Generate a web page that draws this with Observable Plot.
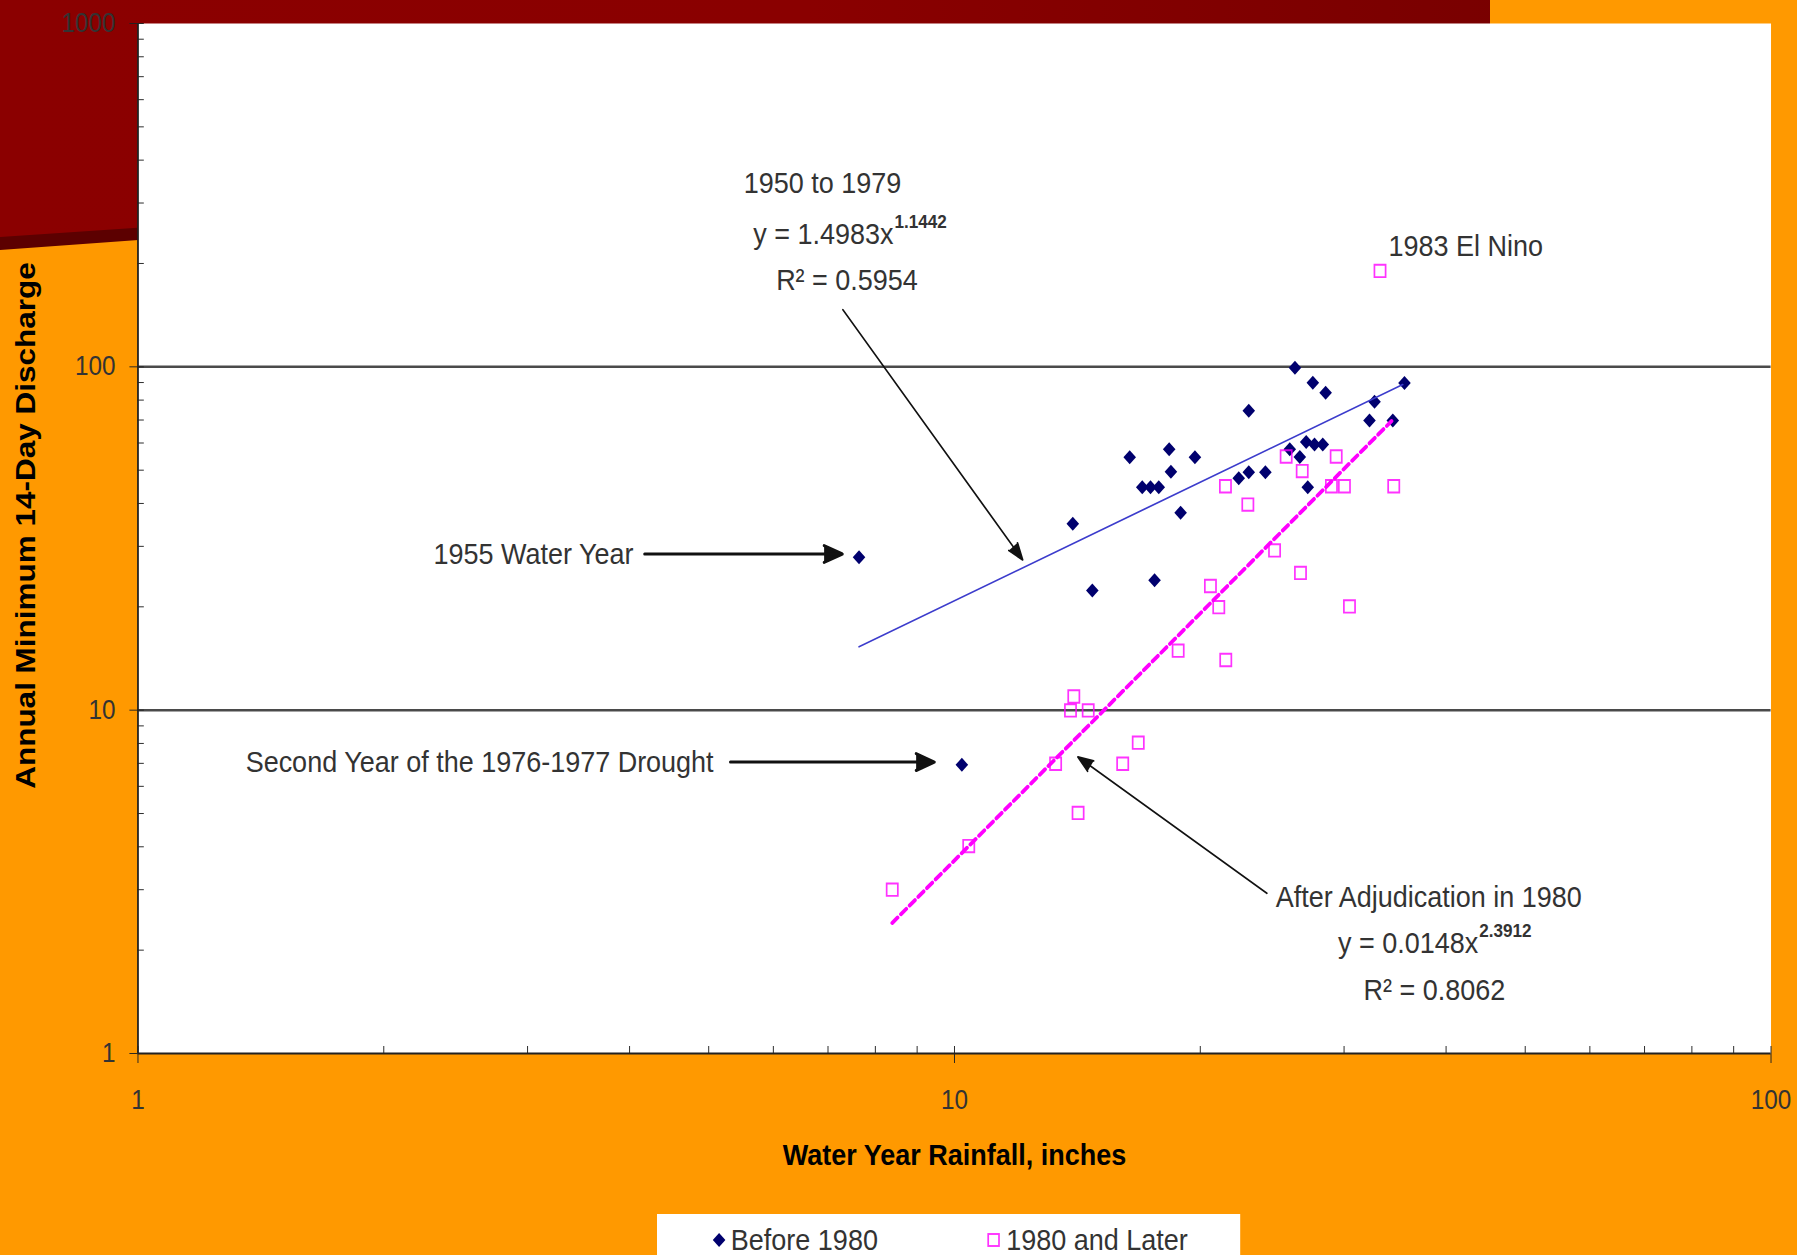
<!DOCTYPE html>
<html>
<head>
<meta charset="utf-8">
<script src="https://cdn.jsdelivr.net/npm/d3@7"></script>
<script src="https://cdn.jsdelivr.net/npm/@observablehq/plot@0.6"></script>
<style>
  html, body { margin: 0; padding: 0; width: 1797px; height: 1255px; overflow: hidden; background: #FF9900; }
  #bgband { position: absolute; left: 0; top: 0; width: 1797px; height: 300px; background: #5c0000;
            clip-path: polygon(0 0, 1490px 0, 1490px 142px, 0 250px); }
  #bgred { position: absolute; left: 0; top: 0; width: 1797px; height: 300px;
           background: linear-gradient(to right, #8b0000 0%, #8a0000 45%, #720000 100%);
           clip-path: polygon(0 0, 1490px 0, 1490px 137px, 0 237px); }
  #wrap { position: absolute; left: 0; top: 0; width: 1997px; height: 1255px;
          transform: scaleX(0.9); transform-origin: 0 0;
          font-family: "Liberation Sans", Arial, sans-serif; }
  #legend { position: absolute; left: 730px; top: 1214px; width: 648px; height: 60px; background: #fff; }
  .item { position: absolute; top: 9px; height: 34px; line-height: 34px; font-size: 30px; color: #333; white-space: nowrap; }
  .item svg { vertical-align: middle; margin-right: 4px; position: relative; top: -2px; }
</style>
</head>
<body>
<div id="bgband"></div>
<div id="bgred"></div>
<div id="wrap">
  <div id="chart"></div>
  <div id="legend"></div>
</div>
<script>
// ---- Data ----
// Before 1980 (1950-1979): water-year rainfall (in) and annual minimum 14-day discharge
const rainBefore = [7.64, 10.21, 13.96, 14.75, 16.39, 16.98, 17.38, 17.79, 17.58, 18.32,
                    18.41, 18.92, 19.70, 22.29, 22.93, 22.93, 24.03, 25.74, 26.12, 26.48,
                    26.96, 27.60, 28.25, 27.08, 27.47, 28.48, 32.23, 32.69, 34.42, 35.57];
const flowBefore = [27.9, 6.93, 34.9, 22.3, 54.5, 44.6, 44.6, 44.6, 23.9, 57.5,
                    49.5, 37.6, 54.5, 47.4, 49.3, 74.5, 49.3, 57.5, 99.4, 54.6,
                    60.4, 59.4, 59.4, 44.6, 89.9, 84.1, 69.8, 79.1, 69.8, 89.7];
// 1980 and later
const rainAfter = [33.2, 25.48, 29.34, 26.66, 21.47, 28.95, 30.03, 34.51, 22.87, 24.66,
                   26.53, 20.58, 21.07, 30.46, 18.79, 21.49, 14.0, 13.87, 14.58, 16.79,
                   16.07, 13.30, 14.17, 10.41, 8.39];
const flowAfter = [190.3, 54.8, 54.8, 49.7, 44.9, 44.9, 44.9, 44.9, 39.7, 29.2,
                   25.1, 23.0, 19.95, 20.05, 14.9, 14.0, 10.96, 9.98, 9.98, 8.04,
                   6.98, 6.98, 5.02, 4.02, 3.0];
// Power-law trendline end points
const trendBeforeRain = [7.64, 35.4];
const trendBeforeFlow = [15.3, 88.8];
const trendAfterRain = [8.39, 34.3];
const trendAfterFlow = [2.4, 69.5];

// Axis ticks
const xMajorTicks = [1, 10, 100];
const xMinorTicks = [2, 3, 4, 5, 6, 7, 8, 9, 20, 30, 40, 50, 60, 70, 80, 90];
const yMajorTicks = [1, 10, 100, 1000];
const yMinorTicks = [2, 3, 4, 5, 6, 7, 8, 9, 20, 30, 40, 50, 60, 70, 80, 90, 200, 300, 400, 500, 600, 700, 800, 900];
const gridY = [10, 100];

// Texts
const xTitle = "Water Year Rainfall, inches";
const yTitle = "Annual Minimum 14-Day Discharge";
const legendLabels = ["Before 1980", "1980 and Later"];

// Annotations (positions in data units)
const notesMiddle = [
  {x: 6.89, y: 342, text: "1950 to 1979"},
  {x: 7.385, y: 178.6, text: "R² = 0.5954"},
  {x: 38.1, y: 2.85, text: "After Adjudication in 1980"},
  {x: 38.7, y: 1.526, text: "R² = 0.8062"}
];
const notesEnd = [
  {x: 8.42, y: 243, text: "y = 1.4983x"},
  {x: 43.8, y: 2.09, text: "y = 0.0148x"},
  {x: 4.045, y: 28.5, text: "1955 Water Year"},
  {x: 5.07, y: 7.06, text: "Second Year of the 1976-1977 Drought"}
];
const notesStart = [
  {x: 34.0, y: 224, text: "1983 El Nino"}
];
const superscripts = [
  {x: 8.42, y: 243, text: "1.1442"},
  {x: 43.8, y: 2.09, text: "2.3912"}
];
const arrowsThick = [
  {x1: 4.173, y1: 28.5, x2: 7.29, y2: 28.5},
  {x1: 5.315, y1: 7.06, x2: 9.45, y2: 7.06}
];
const arrowsThin = [
  {x1: 7.30, y1: 146.6, x2: 12.12, y2: 27.4},
  {x1: 24.13, y1: 2.93, x2: 14.16, y2: 7.31}
];

// ---- Tables built from the arrays ----
const before = rainBefore.map((r, i) => ({rain: r, flow: flowBefore[i]}));
const after = rainAfter.map((r, i) => ({rain: r, flow: flowAfter[i]}));
const trendBefore = trendBeforeRain.map((r, i) => ({rain: r, flow: trendBeforeFlow[i]}));
const trendAfter = trendAfterRain.map((r, i) => ({rain: r, flow: trendAfterFlow[i]}));

const navy = "#00006e";
const pink = "#ff00ff";
const txt = "#333333";

const chart = Plot.plot({
  width: 1997,
  height: 1190,
  marginLeft: 152.8,
  marginRight: 29.7,
  marginTop: 23,
  marginBottom: 137,
  x: {type: "log", domain: [1, 100], axis: null, label: null},
  y: {type: "log", domain: [1, 1000], axis: null, label: null},
  style: {background: "transparent", fontFamily: "'Liberation Sans', Arial, sans-serif", overflow: "visible"},
  marks: [
    Plot.frame({fill: "white", stroke: "none"}),
    Plot.ruleY(gridY, {stroke: "#4a4a4a", strokeWidth: 2.5}),
    // minor / inner ticks
    Plot.axisY(yMinorTicks, {anchor: "left", tickSize: -7, tickFormat: () => "", label: null, stroke: "#222"}),
    Plot.axisY(yMajorTicks, {anchor: "left", tickSize: -7, tickFormat: () => "", label: null, stroke: "#222"}),
    Plot.axisY(yMajorTicks, {anchor: "left", tickSize: 9, tickPadding: 16, fontSize: 27, label: null,
                             stroke: "#222", fill: txt, tickFormat: d => String(d)}),
    Plot.axisX(xMinorTicks, {anchor: "bottom", tickSize: -7, tickFormat: () => "", label: null, stroke: "#222"}),
    Plot.axisX(xMajorTicks, {anchor: "bottom", tickSize: -7, tickFormat: () => "", label: null, stroke: "#222"}),
    Plot.axisX(xMajorTicks, {anchor: "bottom", tickSize: 10, tickPadding: 26, fontSize: 27, label: null,
                             stroke: "#222", fill: txt, tickFormat: d => String(d)}),
    Plot.ruleX([1], {stroke: "#222", strokeWidth: 2}),
    Plot.ruleY([1], {stroke: "#222", strokeWidth: 2}),
    // data
    Plot.dot(before, {x: "rain", y: "flow", symbol: "diamond2", r: 6.3, fill: navy, stroke: "none"}),
    Plot.dot(after, {x: "rain", y: "flow", symbol: "square", r: 7, fill: "none", stroke: pink, strokeWidth: 1.9, strokeOpacity: 0.8}),
    // trendlines
    Plot.line(trendBefore, {x: "rain", y: "flow", stroke: "#3c3ccc", strokeWidth: 1.7}),
    Plot.line(trendAfter, {x: "rain", y: "flow", stroke: pink, strokeWidth: 4, strokeDasharray: "8,5"}),
    // annotations
    Plot.arrow(arrowsThick, {x1: "x1", y1: "y1", x2: "x2", y2: "y2", stroke: "#111", fill: "#111",
                             strokeWidth: 3, headLength: 11, headAngle: 45}),
    Plot.arrow(arrowsThin, {x1: "x1", y1: "y1", x2: "x2", y2: "y2", stroke: "#111", fill: "#111",
                            strokeWidth: 1.8, headLength: 15, headAngle: 40}),
    Plot.text(notesMiddle, {x: "x", y: "y", text: "text", textAnchor: "middle", fontSize: 30, fill: txt}),
    Plot.text(notesEnd, {x: "x", y: "y", text: "text", textAnchor: "end", fontSize: 30, fill: txt}),
    Plot.text(notesStart, {x: "x", y: "y", text: "text", textAnchor: "start", fontSize: 30, fill: txt}),
    Plot.text(superscripts, {x: "x", y: "y", text: "text", textAnchor: "start", fontSize: 19, dy: -13, dx: 1, fill: txt, fontWeight: "bold"}),
    // axis titles
    Plot.text([xTitle], {text: d => d, frameAnchor: "bottom", textAnchor: "middle", lineAnchor: "middle",
                         dy: 102, fontSize: 30, fontWeight: "bold", fill: "#000"}),
    Plot.text([yTitle], {text: d => d, frameAnchor: "left", textAnchor: "middle", lineAnchor: "middle",
                         rotate: -90, dx: -125, dy: -13, fontSize: 31.5, fontWeight: "bold", fill: "#000"})
  ]
});
document.getElementById("chart").appendChild(chart);

// ---- Legend ----
const legend = document.getElementById("legend");
const legendItems = [
  {label: legendLabels[0], left: 60, svg: `<svg width="18" height="18" viewBox="-9 -9 18 18"><path d="M0,-7L7,0L0,7L-7,0Z" fill="${navy}"/></svg>`},
  {label: legendLabels[1], left: 364, svg: `<svg width="20" height="18" viewBox="-10 -9 20 18"><rect x="-6" y="-6" width="12" height="12" fill="none" stroke="${pink}" stroke-width="1.9" stroke-opacity="0.8"/></svg>`}
];
for (const it of legendItems) {
  const el = document.createElement("div");
  el.className = "item";
  el.style.left = it.left + "px";
  el.innerHTML = it.svg + "<span></span>";
  el.querySelector("span").textContent = it.label;
  legend.appendChild(el);
}
</script>
</body>
</html>
